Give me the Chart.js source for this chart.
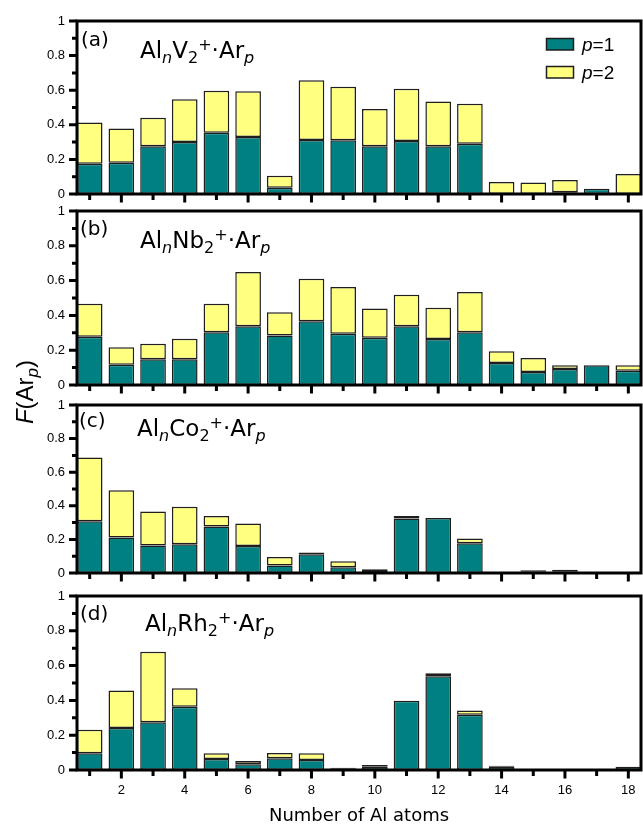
<!DOCTYPE html>
<html>
<head>
<meta charset="utf-8">
<script src="https://cdn.jsdelivr.net/npm/chart.js@4.4.0/dist/chart.umd.min.js"></script>
<style>
  html, body { margin: 0; padding: 0; background: #fff; }
  #wrap { position: relative; width: 643px; height: 824px; }
  #wrap canvas { position: absolute; left: 0; top: 0; }
</style>
</head>
<body>
<div id="wrap">
  <canvas id="panelA" width="643" height="824"></canvas>
  <canvas id="panelB" width="643" height="824"></canvas>
  <canvas id="panelC" width="643" height="824"></canvas>
  <canvas id="panelD" width="643" height="824"></canvas>
</div>
<script>
// number of Al atoms
const atoms = [1, 2, 3, 4, 5, 6, 7, 8, 9, 10, 11, 12, 13, 14, 15, 16, 17, 18];
const xTicks = [2, 4, 6, 8, 10, 12, 14, 16, 18];
const yTicks = [0, 0.2, 0.4, 0.6, 0.8, 1];
const yTickLabels = ['0', '0.2', '0.4', '0.6', '0.8', '1'];
const seriesNames = ['p=1', 'p=2'];

// (a) AlnV2+
const v2P1 = [0.175, 0.18, 0.276, 0.30, 0.354, 0.33, 0.036, 0.312, 0.31, 0.276, 0.306, 0.276, 0.291, 0, 0, 0.01, 0.031, 0];
const v2P2 = [0.238, 0.198, 0.165, 0.247, 0.243, 0.264, 0.07, 0.345, 0.31, 0.215, 0.303, 0.258, 0.231, 0.069, 0.067, 0.071, 0, 0.116];

// (b) AlnNb2+
const nb2P1 = [0.278, 0.117, 0.148, 0.148, 0.303, 0.337, 0.285, 0.366, 0.295, 0.272, 0.337, 0.264, 0.303, 0.126, 0.075, 0.092, 0.113, 0.082];
const nb2P2 = [0.189, 0.10, 0.089, 0.118, 0.164, 0.312, 0.133, 0.245, 0.268, 0.167, 0.182, 0.18, 0.231, 0.068, 0.08, 0.021, 0, 0.031];

// (c) AlnCo2+
const co2P1 = [0.308, 0.211, 0.163, 0.171, 0.277, 0.161, 0.044, 0.112, 0.034, 0.005, 0.324, 0.328, 0.177, 0, 0.01, 0.01, 0, 0];
const co2P2 = [0.38, 0.282, 0.203, 0.223, 0.063, 0.133, 0.051, 0.01, 0.036, 0.017, 0.016, 0, 0.028, 0, 0.006, 0.01, 0, 0];

// (d) AlnRh2+
const rh2P1 = [0.096, 0.241, 0.275, 0.363, 0.063, 0.033, 0.067, 0.057, 0.01, 0.018, 0.398, 0.539, 0.317, 0.018, 0, 0, 0, 0.019];
const rh2P2 = [0.135, 0.216, 0.404, 0.107, 0.033, 0.019, 0.031, 0.039, 0.003, 0.011, 0, 0.017, 0.025, 0.007, 0, 0, 0, 0];

const TEAL = '#008080';
const YELLOW = '#ffff80';
const EDGE = '#1e1e1e';

// draws a run of text pieces, some italic / sub / superscript
function richText(ctx, x, y, segs, size, subSize, family, align) {
    const parts = segs.map(s => {
        const sz = s.s ? subSize : size;
        const font = `${s.i ? 'italic ' : ''}${sz}px ${family}`;
        ctx.font = font;
        return { s, font, w: ctx.measureText(s.t).width };
    });
    const total = parts.reduce((a, p) => a + p.w, 0);
    let cx = align === 'center' ? x - total / 2 : x;
    ctx.textAlign = 'left';
    ctx.textBaseline = 'alphabetic';
    parts.forEach(p => {
        ctx.font = p.font;
        let dy = 0;
        if (p.s.s === 'sub') dy = size * 0.22;
        if (p.s.s === 'sup') dy = -size * 0.36;
        ctx.fillText(p.s.t, cx, y + dy);
        cx += p.w;
    });
}

function formula(metal) {
    return [
        { t: 'Al' }, { t: 'n', i: true, s: 'sub' }, { t: metal }, { t: '2', s: 'sub' },
        { t: '+', s: 'sup' }, { t: '\u00b7Ar' }, { t: 'p', i: true, s: 'sub' }
    ];
}

const panelDecor = {
    id: 'panelDecor',
    afterDraw(chart, args, opts) {
        const { ctx, chartArea: a, scales: { x, y } } = chart;
        ctx.save();
        ctx.strokeStyle = '#000';
        ctx.fillStyle = '#000';

        // frame
        ctx.lineWidth = 3;
        ctx.strokeRect(a.left, a.top, a.right - a.left, a.bottom - a.top);

        // y tick marks, major every 0.2, minor in between
        ctx.lineWidth = 3;
        ctx.beginPath();
        for (let k = 0; k <= 10; k++) {
            const py = y.getPixelForValue(k / 10);
            const len = k % 2 === 0 ? 8 : 5;
            ctx.moveTo(a.left - len, py);
            ctx.lineTo(a.left, py);
        }
        // x tick marks, long ones on the labelled even numbers
        atoms.forEach(n => {
            const px = x.getPixelForValue(n);
            const len = n % 2 === 0 ? 8.5 : 6;
            ctx.moveTo(px, a.bottom);
            ctx.lineTo(px, a.bottom + len);
        });
        ctx.stroke();

        // panel tag and formula
        ctx.font = '20px "DejaVu Sans"';
        ctx.textAlign = 'left';
        ctx.textBaseline = 'alphabetic';
        ctx.fillText(opts.tag, opts.tagX, opts.tagY);
        richText(ctx, opts.titleX, opts.titleY, formula(opts.metal), 23, 16, '"DejaVu Sans"', 'left');

        if (opts.legend) {
            const rows = [
                { color: TEAL, y: 38.5, base: 51, name: seriesNames[0] },
                { color: YELLOW, y: 66.5, base: 78.5, name: seriesNames[1] }
            ];
            rows.forEach(r => {
                ctx.fillStyle = r.color;
                ctx.fillRect(546.5, r.y, 27, 11.5);
                ctx.lineWidth = 1.5;
                ctx.strokeStyle = EDGE;
                ctx.strokeRect(546.5, r.y, 27, 11.5);
                ctx.fillStyle = '#000';
                const [p, rest] = [r.name[0], r.name.slice(1)];
                richText(ctx, 582, r.base, [{ t: p, i: true }, { t: rest }], 19, 19, '"Liberation Sans"', 'left');
            });
        }

        if (opts.axisTitles) {
            ctx.fillStyle = '#000';
            ctx.font = '18px "DejaVu Sans"';
            ctx.textAlign = 'center';
            ctx.fillText('Number of Al atoms', (a.left + a.right) / 2, 821);

            ctx.translate(32.5, 392);
            ctx.rotate(-Math.PI / 2);
            richText(ctx, 0, 0, [
                { t: 'F', i: true }, { t: '(Ar' }, { t: 'p', i: true, s: 'sub' }, { t: ')' }
            ], 24, 17, '"Liberation Sans"', 'center');
        }
        ctx.restore();
    }
};

function makePanel(id, p1, p2, cfg) {
    const showLabels = !!cfg.axisTitles;
    const xHeight = showLabels ? 54 : 11;
    return new Chart(document.getElementById(id), {
        type: 'bar',
        data: {
            datasets: [
                {
                    label: seriesNames[0],
                    data: atoms.map((n, i) => ({ x: n, y: p1[i] })),
                    backgroundColor: TEAL
                },
                {
                    label: seriesNames[1],
                    data: atoms.map((n, i) => ({ x: n, y: p2[i] })),
                    backgroundColor: YELLOW
                }
            ]
        },
        options: {
            responsive: false,
            animation: false,
            events: [],
            layout: {
                padding: { top: cfg.top, bottom: 824 - cfg.bottom - xHeight, left: 0, right: 2 }
            },
            datasets: {
                bar: {
                    borderColor: EDGE,
                    borderWidth: 1.5,
                    borderSkipped: false,
                    categoryPercentage: 1,
                    barPercentage: 0.81
                }
            },
            scales: {
                x: {
                    type: 'linear',
                    offset: false,
                    stacked: true,
                    min: 0.6,
                    max: 18.4,
                    afterBuildTicks: s => { s.ticks = xTicks.map(v => ({ value: v })); },
                    afterFit: s => {
                        s.height = xHeight;
                        s.paddingLeft = 0;
                        s.paddingRight = 0;
                    },
                    grid: { display: false, drawTicks: false, offset: false },
                    border: { display: false },
                    ticks: {
                        display: showLabels,
                        autoSkip: false,
                        maxRotation: 0,
                        padding: 13,
                        color: '#000',
                        font: { family: '"Liberation Sans"', size: 13 }
                    }
                },
                y: {
                    stacked: true,
                    min: 0,
                    max: 1,
                    afterBuildTicks: s => { s.ticks = yTicks.map(v => ({ value: v })); },
                    afterFit: s => { s.width = 77; },
                    grid: { display: false, drawTicks: false },
                    border: { display: false },
                    ticks: {
                        padding: 12,
                        color: '#000',
                        font: { family: '"Liberation Sans"', size: 13 },
                        callback: (v, i) => yTickLabels[i]
                    }
                }
            },
            plugins: {
                legend: { display: false },
                tooltip: { enabled: false },
                panelDecor: cfg
            }
        },
        plugins: [panelDecor]
    });
}

makePanel('panelA', v2P1, v2P2, {
    top: 21, bottom: 194, tag: '(a)', tagX: 81, tagY: 46,
    metal: 'V', titleX: 140, titleY: 58, legend: true
});
makePanel('panelB', nb2P1, nb2P2, {
    top: 211, bottom: 385, tag: '(b)', tagX: 80, tagY: 235,
    metal: 'Nb', titleX: 140, titleY: 248
});
makePanel('panelC', co2P1, co2P2, {
    top: 405, bottom: 573, tag: '(c)', tagX: 79, tagY: 427,
    metal: 'Co', titleX: 137, titleY: 436
});
makePanel('panelD', rh2P1, rh2P2, {
    top: 596, bottom: 770, tag: '(d)', tagX: 80, tagY: 620,
    metal: 'Rh', titleX: 145, titleY: 631, axisTitles: true
});
</script>
</body>
</html>
